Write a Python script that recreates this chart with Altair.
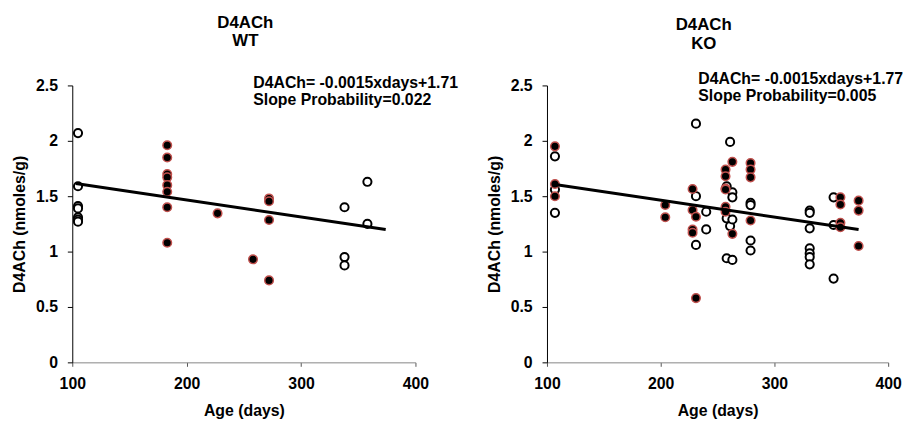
import altair as alt
import pandas as pd

# ---- data ----
wt_open_days = [105, 105, 105, 105, 105, 105, 105, 338, 338, 338, 358, 358]
wt_open_vals = [2.07, 1.59, 1.41, 1.39, 1.31, 1.29, 1.27, 1.40, 0.95, 0.875, 1.63, 1.25]

wt_fill_days = [183, 183, 183, 183, 183, 183, 183, 183, 227, 258, 272, 272, 272, 272]
wt_fill_vals = [1.96, 1.85, 1.70, 1.67, 1.60, 1.54, 1.40, 1.08, 1.345, 0.93, 1.48, 1.455, 1.285, 0.74]

ko_open_days = [107, 107, 107, 231, 231, 231, 240, 240, 258, 258, 258, 261, 261,
                263, 263, 263, 263, 279, 279, 279, 279, 331, 331, 331, 331, 331, 331, 331,
                352, 352, 352]
ko_open_vals = [1.86, 1.56, 1.35, 2.155, 1.50, 1.06, 1.36, 1.20, 1.59, 1.30, 0.94, 1.99, 1.23,
                1.535, 1.49, 1.29, 0.925, 1.44, 1.42, 1.10, 1.01, 1.37, 1.35, 1.21, 1.03, 0.985, 0.95, 0.885,
                1.49, 1.24, 0.756]

ko_fill_days = [107, 107, 107, 204, 204, 228, 228, 228, 228, 231, 231,
                257, 257, 257, 257, 257, 257, 263, 263, 279, 279, 279, 279,
                358, 358, 358, 358, 374, 374, 374]
ko_fill_vals = [1.95, 1.61, 1.50, 1.42, 1.31, 1.565, 1.375, 1.20, 1.17, 1.315, 0.58,
                1.74, 1.68, 1.57, 1.56, 1.405, 1.36, 1.81, 1.16, 1.80, 1.74, 1.67, 1.28,
                1.49, 1.425, 1.26, 1.22, 1.46, 1.37, 1.05]

wt_line_days = [103, 374]
wt_line_vals = [1.615, 1.20]
ko_line_days = [107, 374]
ko_line_vals = [1.605, 1.20]

wt_annotation = ["D4ACh= -0.0015xdays+1.71", "Slope Probability=0.022"]
ko_annotation = ["D4ACh= -0.0015xdays+1.77", "Slope Probability=0.005"]

x_ticks = [100, 200, 300, 400]
y_ticks = [0, 0.5, 1, 1.5, 2, 2.5]

FONT = "Liberation Sans"


def panel(title_lines, od, ov, fd, fv, ld, lv, ann, ann_x, ann_y, width, title_dx, title_offset):
    xs = alt.Scale(domain=[100, 400], nice=False, zero=False)
    ys = alt.Scale(domain=[0, 2.5], nice=False)
    xax = alt.Axis(values=x_ticks, format="d", title="Age (days)", grid=False,
                   domainColor="#868686", tickColor="#555555", tickSize=4,
                   labelPadding=9, titlePadding=12, labelFlush=False, labelOverlap=False)
    yax = alt.Axis(values=y_ticks, format="~g", title="D4ACh (nmoles/g)", grid=False,
                   domainColor="black", tickColor="black", tickSize=5,
                   labelPadding=10, titlePadding=8, labelFlush=False, labelOverlap=False)

    open_df = pd.DataFrame({"days": od, "val": ov})
    fill_df = pd.DataFrame({"days": fd, "val": fv})
    line_df = pd.DataFrame({"days": ld, "val": lv})
    ann_df = pd.DataFrame({"t": ann, "yy": ann_y})

    open_pts = alt.Chart(open_df).mark_point(
        shape="circle", filled=True, fill="white", stroke="black",
        strokeWidth=2, size=68, opacity=1
    ).encode(x=alt.X("days:Q", scale=xs, axis=xax), y=alt.Y("val:Q", scale=ys, axis=yax))

    fill_pts = alt.Chart(fill_df).mark_point(
        shape="circle", filled=True, fill="black", stroke="#c0504d",
        strokeWidth=1.5, size=75, opacity=1
    ).encode(x=alt.X("days:Q", scale=xs), y=alt.Y("val:Q", scale=ys))

    trend = alt.Chart(line_df).mark_line(color="black", strokeWidth=3).encode(
        x=alt.X("days:Q", scale=xs), y=alt.Y("val:Q", scale=ys))

    text = alt.Chart(ann_df).mark_text(
        align="left", baseline="alphabetic", font=FONT, fontWeight="bold",
        fontSize=16, color="black", x=ann_x
    ).encode(y=alt.Y("yy:Q", scale=None), text="t:N")

    return alt.layer(open_pts, fill_pts, trend, text).properties(
        width=width, height=280,
        title=alt.TitleParams(text=title_lines, font=FONT, fontWeight="bold", fontSize=17,
                              lineHeight=18.5, color="black", anchor="middle", frame="group",
                              dx=title_dx, offset=title_offset)
    )


left = panel(["D4ACh", "WT"], wt_open_days, wt_open_vals, wt_fill_days, wt_fill_vals,
             wt_line_days, wt_line_vals, wt_annotation, 183, [3, 20], 347, 1.5, 26)
right = panel(["D4ACh", "KO"], ko_open_days, ko_open_vals, ko_fill_days, ko_fill_vals,
              ko_line_days, ko_line_vals, ko_annotation, 153, [-1.3, 15.3], 345, -14, 19)

chart = alt.hconcat(left, right, spacing=133, bounds="flush").properties(
    padding={"left": 3, "top": 3, "right": 0, "bottom": 0}
).configure_view(stroke=None).configure_axis(
    labelFont=FONT, labelFontWeight="bold", labelFontSize=16, labelColor="black",
    titleFont=FONT, titleFontWeight="bold", titleFontSize=16, titleColor="black",
    domainWidth=1, tickWidth=1
)

chart.save("out.html", embed_options={"renderer": "svg", "actions": False})
